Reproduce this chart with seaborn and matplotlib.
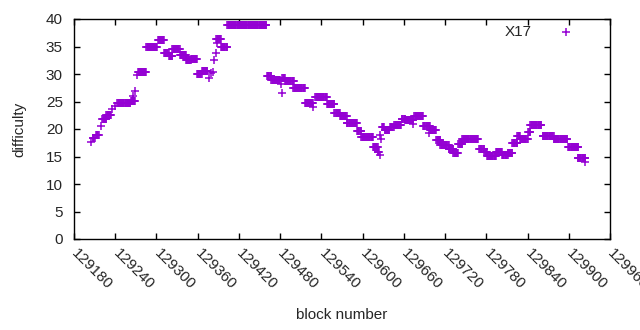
import numpy as np
import pandas as pd
import matplotlib
matplotlib.use('Agg')
import matplotlib.pyplot as plt
import seaborn as sns

# runs of blocks with the same difficulty (first block, last block, difficulty)
run_start = [129205, 129207, 129212, 129220, 129221, 129227, 129235, 129239, 129243, 129263,
             129266, 129269, 129271, 129273, 129285, 129302, 129311, 129318, 129323, 129334,
             129343, 129350, 129359, 129366, 129376, 129380, 129382, 129384, 129386, 129388,
             129387, 129394, 129403, 129461, 129467, 129481, 129482, 129483, 129487, 129499,
             129516, 129528, 129531, 129548, 129559, 129567, 129577, 129592, 129598, 129615,
             129622, 129625, 129626, 129627, 129628, 129632, 129640, 129646, 129657, 129662,
             129673, 129675, 129688, 129697, 129698, 129707, 129713, 129725, 129732, 129739,
             129745, 129770, 129777, 129781, 129794, 129803, 129811, 129818, 129825, 129829,
             129841, 129844, 129862, 129878, 129899, 129913, 129924]
run_end = [129205, 129210, 129216, 129220, 129227, 129234, 129235, 129239, 129262, 129269,
           129266, 129269, 129271, 129285, 129301, 129311, 129318, 129323, 129334, 129343,
           129350, 129359, 129366, 129374, 129376, 129380, 129382, 129384, 129386, 129388,
           129394, 129403, 129460, 129467, 129480, 129481, 129482, 129487, 129500, 129516,
           129528, 129528, 129548, 129559, 129567, 129577, 129592, 129598, 129615, 129622,
           129624, 129625, 129626, 129627, 129631, 129639, 129645, 129656, 129662, 129674,
           129673, 129688, 129698, 129697, 129707, 129713, 129725, 129732, 129739, 129745,
           129768, 129777, 129781, 129794, 129803, 129811, 129818, 129825, 129829, 129840,
           129844, 129860, 129878, 129898, 129914, 129924, 129924]
run_diff = [17.7, 18.4, 19.0, 20.5, 21.9, 22.5, 23.6, 24.1, 24.8, 25.1,
            26.0, 27.0, 29.8, 30.4, 34.9, 36.1, 33.8, 33.2, 34.5, 33.5,
            32.5, 32.7, 30.0, 30.5, 29.2, 30.1, 30.4, 32.5, 33.8, 35.7,
            36.3, 35.0, 39.0, 29.6, 29.0, 28.2, 26.5, 29.2, 28.7, 27.4,
            24.8, 24.0, 25.9, 24.5, 23.0, 22.3, 21.1, 19.7, 18.6, 16.7,
            15.9, 15.3, 18.9, 18.1, 20.4, 19.8, 20.3, 20.8, 21.9, 21.6,
            21.0, 22.4, 20.6, 19.2, 19.8, 18.0, 17.1, 16.3, 15.6, 17.2,
            18.1, 16.3, 15.8, 15.1, 15.9, 15.3, 15.6, 17.4, 18.8, 18.1,
            19.4, 20.7, 18.8, 18.2, 16.7, 14.8, 14.0]

xticks = list(range(129180, 129961, 60))
yticks = list(range(0, 41, 5))

blocks = np.concatenate([np.arange(s, e + 1) for s, e in zip(run_start, run_end)])
diffs = np.concatenate([[d] * (e - s + 1) for s, e, d in zip(run_start, run_end, run_diff)])
df = pd.DataFrame({'block': blocks, 'difficulty': diffs})

sns.set_style('white')
plt.rcParams['font.family'] = ['Liberation Sans', 'DejaVu Sans']
fs = 11

fig = plt.figure(figsize=(6.4, 3.3), dpi=100)
ax = fig.add_axes([74 / 640, 1 - 239 / 330, 536 / 640, 220 / 330])

sns.scatterplot(data=df, x='block', y='difficulty', marker='+', color='#9400d3',
                s=34, linewidth=1.1, label='X17', ax=ax)

ax.set_xlim(129180, 129960)
ax.set_ylim(0, 40)
ax.set_xticks(xticks)
ax.set_yticks(yticks)
ax.set_xticklabels([str(t) for t in xticks], rotation=-45, ha='left', va='center',
                   rotation_mode='anchor', fontsize=fs)
ax.set_yticklabels([str(t) for t in yticks], fontsize=fs)
ax.tick_params(direction='in', length=4, width=1, top=True, right=True,
               bottom=True, left=True, color='black')
ax.tick_params(axis='y', pad=8)
ax.tick_params(axis='x', pad=9)
for sp in ax.spines.values():
    sp.set_color('black')
    sp.set_linewidth(1)
ax.set_xlabel('block number', fontsize=fs, labelpad=11)
ax.set_ylabel('difficulty', fontsize=fs, labelpad=14)

ax.legend(loc='upper right', bbox_to_anchor=(0.972, 1.035), frameon=False,
          markerfirst=False, fontsize=fs, handletextpad=1.25)

fig.savefig('out.png', dpi=100)
